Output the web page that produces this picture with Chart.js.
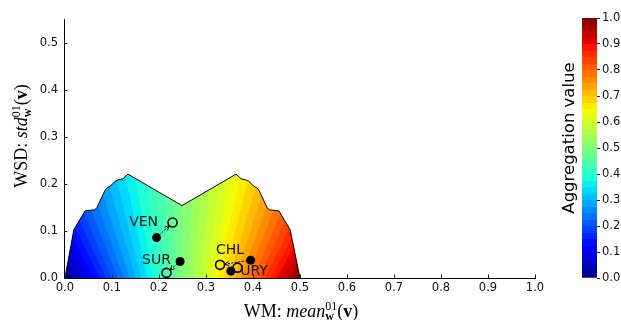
<!DOCTYPE html>
<html>
<head>
<meta charset="utf-8">
<script src="https://cdn.jsdelivr.net/npm/chart.js@4.4.1/dist/chart.umd.min.js"></script>
<style>
  html, body { margin: 0; padding: 0; background: #fff; }
  #wrap { position: relative; width: 621px; height: 320px; }
  #main { position: absolute; left: 0; top: 0; }
  #bar { position: absolute; left: 540px; top: 0; }
</style>
</head>
<body>
<div id="wrap">
  <canvas id="main" width="621" height="320"></canvas>
  <canvas id="bar" width="81" height="320"></canvas>
</div>
<script>
// ---- data ----
const countries = ['VEN', 'SUR', 'CHL', 'URY'];
const beforeX = [0.195, 0.245, 0.395, 0.353];
const beforeY = [0.086, 0.035, 0.038, 0.015];
const afterX = [0.229, 0.216, 0.330, 0.367];
const afterY = [0.118, 0.011, 0.028, 0.022];

// outline of the feasible region (WM, WSD)
const boundX = [0.000, 0.019, 0.022, 0.043, 0.063, 0.068, 0.086, 0.089, 0.096, 0.107, 0.114, 0.123, 0.134,
                0.249,
                0.364, 0.375, 0.384, 0.391, 0.402, 0.409, 0.412, 0.430, 0.435, 0.455, 0.476, 0.479, 0.500];
const boundY = [0.000, 0.103, 0.108, 0.143, 0.145, 0.150, 0.188, 0.191, 0.195, 0.206, 0.209, 0.211, 0.221,
                0.154,
                0.221, 0.211, 0.209, 0.206, 0.195, 0.191, 0.188, 0.150, 0.145, 0.143, 0.108, 0.103, 0.000];

const xTicks = [0.0, 0.1, 0.2, 0.3, 0.4, 0.5, 0.6, 0.7, 0.8, 0.9, 1.0];
const yTicks = [0.0, 0.1, 0.2, 0.3, 0.4, 0.5];
const cbTicks = [0.0, 0.1, 0.2, 0.3, 0.4, 0.5, 0.6, 0.7, 0.8, 0.9, 1.0];

// ---- styling ----
const nLevels = 40;
const fanDepth = 0.35;  // contour fan converges below the axis
const tickFont = { family: 'DejaVu Sans', size: 11.5 };
const serif = '"Liberation Serif", "DejaVu Serif", serif';
const labelNudge = { VEN: [-29, 0], SUR: [-10, -12], CHL: [10, -14.5], URY: [16.5, 4] };

function lerp(v, pts) {
  for (let i = 1; i < pts.length; i++) {
    if (v <= pts[i][0]) {
      const [x0, y0] = pts[i - 1], [x1, y1] = pts[i];
      return y0 + (y1 - y0) * (v - x0) / (x1 - x0);
    }
  }
  return pts[pts.length - 1][1];
}
function jet(v) {
  const r = lerp(v, [[0, 0], [0.35, 0], [0.66, 1], [0.89, 1], [1, 0.5]]);
  const g = lerp(v, [[0, 0], [0.125, 0], [0.375, 1], [0.64, 1], [0.91, 0], [1, 0]]);
  const b = lerp(v, [[0, 0.5], [0.11, 1], [0.34, 1], [0.65, 0], [1, 0]]);
  return `rgb(${Math.round(r * 255)},${Math.round(g * 255)},${Math.round(b * 255)})`;
}

// filled contour look: conic gradient centred below the region
function fanFill(context) {
  const chart = context.chart;
  const { x, y } = chart.scales;
  if (!chart.chartArea || !x || !y) return 'rgba(0,0,0,0)';
  const cx = x.getPixelForValue(0.25);
  const cy = y.getPixelForValue(-fanDepth);
  const dy = cy - y.getPixelForValue(0);
  const g = chart.ctx.createConicGradient(Math.PI / 2, cx, cy);
  const off = v => 0.5 + Math.atan2(x.getPixelForValue(v / 2) - cx, dy) / (2 * Math.PI);
  for (let i = 0; i < nLevels; i++) {
    const c = jet((i + 0.5) / nLevels);
    g.addColorStop(off(i / nLevels), c);
    g.addColorStop(off((i + 1) / nLevels) - 1e-6, c);
  }
  return g;
}

function cbFill(context) {
  const chart = context.chart;
  const y = chart.scales.y;
  if (!chart.chartArea || !y) return 'rgba(0,0,0,0)';
  const g = chart.ctx.createLinearGradient(0, y.getPixelForValue(0), 0, y.getPixelForValue(1));
  for (let i = 0; i < nLevels; i++) {
    const c = jet((i + 0.5) / nLevels);
    g.addColorStop(i / nLevels, c);
    g.addColorStop((i + 1) / nLevels - 1e-6, c);
  }
  return g;
}

// text with mixed fonts, sub/superscripts stacked in one group
function drawRich(ctx, groups, cx, baseline) {
  const widths = groups.map(gr => Math.max(...gr.map(p => { ctx.font = p.f; return ctx.measureText(p.t).width; })));
  let xx = cx - widths.reduce((a, b) => a + b, 0) / 2;
  ctx.textAlign = 'left';
  ctx.textBaseline = 'alphabetic';
  groups.forEach((gr, i) => {
    gr.forEach(p => { ctx.font = p.f; ctx.fillText(p.t, xx, baseline + (p.dy || 0)); });
    xx += widths[i];
  });
}
const xTitle = [
  [{ t: 'WM: ', f: `18px ${serif}` }],
  [{ t: 'mean', f: `italic 18px ${serif}` }],
  [{ t: 'w', f: `bold 12px ${serif}`, dy: 3.5 }, { t: '01', f: `12px ${serif}`, dy: -7 }],
  [{ t: '(', f: `18px ${serif}` }],
  [{ t: 'v', f: `bold 18px ${serif}` }],
  [{ t: ')', f: `18px ${serif}` }]
];
const yTitle = [
  [{ t: 'WSD: ', f: `18px ${serif}` }],
  [{ t: 'std', f: `italic 18px ${serif}` }],
  [{ t: 'w', f: `bold 12px ${serif}`, dy: 3.5 }, { t: '01', f: `12px ${serif}`, dy: -7 }],
  [{ t: '(', f: `18px ${serif}` }],
  [{ t: 'v', f: `bold 18px ${serif}` }],
  [{ t: ')', f: `18px ${serif}` }]
];

const marks = {
  id: 'marks',
  afterDatasetsDraw(chart) {
    const { ctx, scales: { x, y } } = chart;
    ctx.save();
    // dotted arrows before -> after
    countries.forEach((c, i) => {
      const x0 = x.getPixelForValue(beforeX[i]), y0 = y.getPixelForValue(beforeY[i]);
      const x1 = x.getPixelForValue(afterX[i]), y1 = y.getPixelForValue(afterY[i]);
      const a = Math.atan2(y1 - y0, x1 - x0);
      const tx = x1 - Math.cos(a) * 4.5, ty = y1 - Math.sin(a) * 4.5;
      ctx.strokeStyle = '#000';
      ctx.lineWidth = 1;
      ctx.setLineDash([2, 1.5]);
      ctx.beginPath(); ctx.moveTo(x0, y0); ctx.lineTo(tx, ty); ctx.stroke();
      ctx.setLineDash([]);
      ctx.beginPath();
      ctx.moveTo(tx - 5 * Math.cos(a - 0.45), ty - 5 * Math.sin(a - 0.45));
      ctx.lineTo(tx, ty);
      ctx.lineTo(tx - 5 * Math.cos(a + 0.45), ty - 5 * Math.sin(a + 0.45));
      ctx.stroke();
    });
    // country names
    ctx.font = '14px "DejaVu Sans"';
    ctx.fillStyle = '#111';
    ctx.textAlign = 'center';
    ctx.textBaseline = 'middle';
    countries.forEach((c, i) => {
      const [dx, dy] = labelNudge[c];
      ctx.fillText(c, x.getPixelForValue(afterX[i]) + dx, y.getPixelForValue(afterY[i]) + dy);
    });
    ctx.restore();
  },
  afterDraw(chart) {
    const { ctx, chartArea: a, scales: { x, y } } = chart;
    ctx.save();
    // inward ticks
    ctx.strokeStyle = '#222';
    ctx.lineWidth = 1;
    ctx.beginPath();
    xTicks.forEach(v => { const px = Math.round(x.getPixelForValue(v)) + 0.5; ctx.moveTo(px, a.bottom); ctx.lineTo(px, a.bottom - 3.5); });
    yTicks.forEach(v => { const py = Math.round(y.getPixelForValue(v)) + 0.5; ctx.moveTo(a.left, py); ctx.lineTo(a.left + 3.5, py); });
    ctx.stroke();
    // axis titles
    ctx.fillStyle = '#000';
    drawRich(ctx, xTitle, 301, 316.5);
    ctx.translate(27, 136);
    ctx.rotate(-Math.PI / 2);
    drawRich(ctx, yTitle, 0, 0);
    ctx.restore();
  }
};

new Chart(document.getElementById('main'), {
  type: 'scatter',
  data: {
    datasets: [
      {
        label: 'before',
        data: beforeX.map((v, i) => ({ x: v, y: beforeY[i] })),
        pointRadius: 4.5,
        pointBackgroundColor: '#000',
        pointBorderColor: '#000',
        pointBorderWidth: 0,
        order: 1
      },
      {
        label: 'after',
        data: afterX.map((v, i) => ({ x: v, y: afterY[i] })),
        pointRadius: 4.5,
        pointBackgroundColor: 'rgba(0,0,0,0)',
        pointBorderColor: '#000',
        pointBorderWidth: 1.6,
        order: 0
      },
      {
        label: 'region',
        data: boundX.map((v, i) => ({ x: v, y: boundY[i] })),
        showLine: true,
        fill: 'origin',
        tension: 0,
        borderColor: '#000',
        borderWidth: 1,
        pointRadius: 0,
        backgroundColor: fanFill,
        order: 5
      }
    ]
  },
  options: {
    responsive: false,
    animation: false,
    events: [],
    layout: { padding: { top: 19.5, right: 86, left: 0, bottom: 0 } },
    plugins: { legend: { display: false }, tooltip: { enabled: false } },
    scales: {
      x: {
        type: 'linear',
        min: -0.002,
        max: 1.0,
        z: 1,
        afterFit: s => { s.height = 42; },
        afterBuildTicks: s => { s.ticks = xTicks.map(v => ({ value: v })); },
        ticks: { font: tickFont, color: '#111', padding: 3, maxRotation: 0, autoSkip: false, callback: v => v.toFixed(1) },
        grid: { display: true, drawOnChartArea: false, drawTicks: false },
        border: { color: '#000', width: 1 }
      },
      y: {
        type: 'linear',
        min: 0,
        max: 0.55,
        z: 1,
        afterFit: s => { s.width = 64; },
        afterBuildTicks: s => { s.ticks = yTicks.map(v => ({ value: v })); },
        ticks: { font: tickFont, color: '#111', padding: 6, autoSkip: false, callback: v => v.toFixed(1) },
        grid: { display: true, drawOnChartArea: false, drawTicks: false },
        border: { color: '#000', width: 1 }
      }
    }
  },
  plugins: [marks]
});

// colour bar with its own axis; title drawn beside it
const cbTitle = {
  id: 'cbTitle',
  afterDraw(chart) {
    const ctx = chart.ctx;
    ctx.save();
    ctx.translate(30, 138);
    ctx.rotate(-Math.PI / 2);
    ctx.font = '16.5px "DejaVu Sans"';
    ctx.fillStyle = '#000';
    ctx.textAlign = 'center';
    ctx.textBaseline = 'middle';
    ctx.fillText('Aggregation value', 0, 0);
    ctx.restore();
  }
};

new Chart(document.getElementById('bar'), {
  type: 'bar',
  data: {
    labels: [''],
    datasets: [{
      data: [[0, 1]],
      backgroundColor: cbFill,
      borderWidth: 0,
      barPercentage: 1,
      categoryPercentage: 1
    }]
  },
  options: {
    responsive: false,
    animation: false,
    events: [],
    layout: { padding: { top: 18, bottom: 42, left: 42, right: 0 } },
    plugins: { legend: { display: false }, tooltip: { enabled: false } },
    scales: {
      x: { display: false },
      y: {
        position: 'right',
        min: 0,
        max: 1,
        afterFit: s => { s.width = 24; },
        afterBuildTicks: s => { s.ticks = cbTicks.map(v => ({ value: v })); },
        ticks: { font: tickFont, color: '#111', padding: 2, autoSkip: false, callback: v => v.toFixed(1) },
        grid: { drawOnChartArea: false, tickLength: 3, color: '#222' },
        border: { display: false }
      }
    }
  },
  plugins: [cbTitle]
});
</script>
</body>
</html>
